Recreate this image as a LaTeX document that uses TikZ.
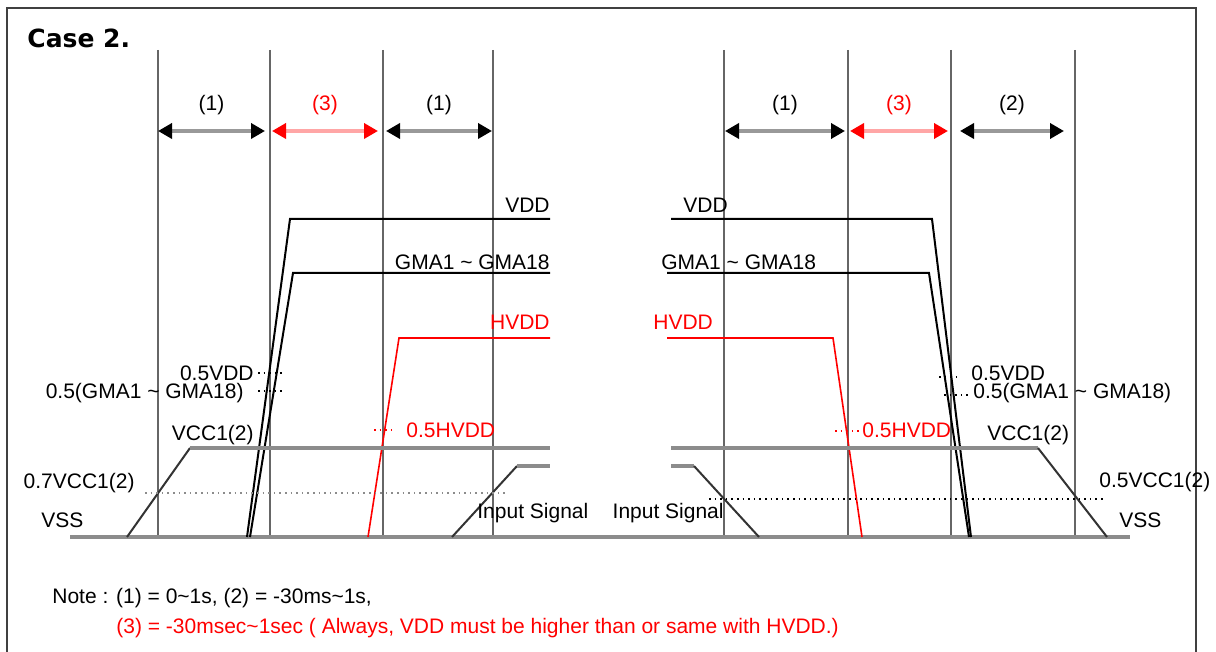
\documentclass[tikz,border=0pt]{standalone}
\usepackage{fontspec}
\setmainfont{Liberation Sans}
\newfontfamily\casefont{DejaVu Sans}
\usetikzlibrary{arrows.meta}
\begin{document}
\begin{tikzpicture}[x=0.5pt,y=-0.5pt,
    every node/.style={inner sep=0pt,font=\fontsize{10.5}{12}\selectfont},
    guide/.style={line width=0.7pt,black!60},
    wave/.style={line width=1pt,black!80},
    rail/.style={line width=1.6pt,black!45},
    span/.style={{Triangle[length=7pt,width=7.5pt,color=black]}-{Triangle[length=7pt,width=7.5pt,color=black]},line width=2.2pt,black!40},
    redspan/.style={{Triangle[length=7pt,width=7.5pt,color=red]}-{Triangle[length=7pt,width=7.5pt,color=red]},line width=2.2pt,red!35}]
  \useasboundingbox (0,0) rectangle (1216,652);
  % frame
  \draw[line width=1.3pt,black!75] (7,660) -- (7,8) -- (1196,8) -- (1196,660);
  \node[anchor=west,font=\casefont\bfseries\fontsize{12.5}{14}\selectfont] (title) at (27,38) {Case 2.};
  % time grid
  \foreach \x in {158,270,383,493,724,848,951,1075}
    \draw[guide] (\x,50) -- (\x,537);
  % intervals
  \draw[span] (158,131) -- (265,131) node[midway,above=7pt,text=black] (t1a) {(1)};
  \draw[redspan] (272,131) -- (378,131) node[midway,above=7pt,text=red] (t3a) {(3)};
  \draw[span] (386,131) -- (492,131) node[midway,above=7pt,text=black] (t1b) {(1)};
  \draw[span] (725,131) -- (845,131) node[midway,above=7pt,text=black] (t1c) {(1)};
  \draw[redspan] (850,131) -- (948,131) node[midway,above=7pt,text=red] (t3b) {(3)};
  \draw[span] (960,131) -- (1064,131) node[midway,above=7pt,text=black] (t2a) {(2)};
  % ground
  \draw[rail] (70,537) -- (1130,537);
  % power on
  \draw[wave,black] (247,537) -- (290,219) -- (550,219);
  \draw[wave,black] (250,537) -- (293,273) -- (550,273);
  \draw[wave,red,line width=0.8pt] (368,537) -- (399,338) -- (550,338);
  \draw[wave] (127,537) -- (190,448);
  \draw[rail] (190,448) -- (550,448);
  \draw[wave] (452,537) -- (517,466);
  \draw[rail] (517,466) -- (550,466);
  \draw[dotted,black!45,line width=0.8pt] (145,493) -- (506,493);
  \draw[dotted,line width=0.8pt] (258,373) -- (284,373);
  \draw[dotted,line width=0.8pt] (258,391) -- (284,391);
  \draw[dotted,red,line width=0.8pt] (374,430) -- (396,430);
  % power off
  \draw[wave,black] (671,219) -- (932,219) -- (971,537);
  \draw[wave,black] (667,273) -- (929,273) -- (969,537);
  \draw[wave,red,line width=0.8pt] (667,338) -- (833,338) -- (862,537);
  \draw[rail] (671,448) -- (1038,448);
  \draw[wave] (1038,448) -- (1107,537);
  \draw[rail] (671,466) -- (694,466);
  \draw[wave] (694,466) -- (759,537);
  \draw[dotted,line width=0.8pt] (709,499) -- (1105,499);
  \draw[dotted,line width=0.8pt] (939,377) -- (961,377);
  \draw[dotted,line width=0.8pt] (944,395) -- (968,395);
  \draw[dotted,red,line width=0.8pt] (835,431) -- (859,431);
  % levels, left
  \node[anchor=east] (vddL) at (550,205) {VDD};
  \node[anchor=east] (gmaL) at (550,262) {GMA1 \textasciitilde{} GMA18};
  \node[anchor=east,text=red] (hvddL) at (550,322) {HVDD};
  \node[anchor=east] (hvL) at (254,373) {0.5VDD};
  \node[anchor=east] (hgL) at (244,393) {0.5(GMA1 \textasciitilde{} GMA18)};
  \node[anchor=west,text=red] (hhL) at (406,430) {0.5HVDD};
  \node[anchor=east] (vccL) at (254,435) {VCC1(2)};
  \node[anchor=east] (svccL) at (135,483) {0.7VCC1(2)};
  \node[anchor=west] (vssL) at (41,520) {VSS};
  \node[anchor=west] (inL) at (477,513) {Input Signal};
  % levels, right
  \node[anchor=west] (vddR) at (683,205) {VDD};
  \node[anchor=west] (gmaR) at (661,262) {GMA1 \textasciitilde{} GMA18};
  \node[anchor=west,text=red] (hvddR) at (653,322) {HVDD};
  \node[anchor=west] (hvR) at (971,373) {0.5VDD};
  \node[anchor=west] (hgR) at (973,393) {0.5(GMA1 \textasciitilde{} GMA18)};
  \node[anchor=west,text=red] (hhR) at (862,430) {0.5HVDD};
  \node[anchor=west] (vccR) at (987,435) {VCC1(2)};
  \node[anchor=west] (svccR) at (1099,482) {0.5VCC1(2)};
  \node[anchor=west] (vssR) at (1119,520) {VSS};
  \node[anchor=east] (inR) at (724,513) {Input Signal};
  % note
  \node[anchor=west,font=\fontsize{10.5}{12}\selectfont] (note1) at (52,598) {Note : (1) = 0\textasciitilde1s, (2) = -30ms\textasciitilde1s,};
  \node[anchor=west,text=red,font=\fontsize{10.5}{12}\selectfont] (note2) at (116,628) {(3) = -30msec\textasciitilde1sec ( Always, VDD must be higher than or same with HVDD.)};
\end{tikzpicture}
\end{document}
